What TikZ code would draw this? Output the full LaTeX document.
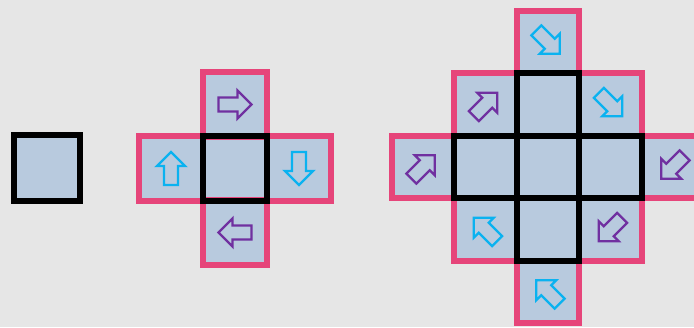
\documentclass[tikz,border=0pt]{standalone}
\definecolor{bgc}{HTML}{E6E6E6}
\definecolor{cellc}{HTML}{B8CADE}
\definecolor{pinkc}{HTML}{E6457A}
\definecolor{purc}{HTML}{7030A0}
\definecolor{cyc}{HTML}{0AB2F0}
\tikzset{
  cellbox/.style={rectangle, inner sep=0pt, minimum size=#1, fill=cellc},
  pinkline/.style={draw=pinkc, line width=6pt},
  blackline/.style={draw=black, line width=6pt},
  barrow/.pic={\draw[line width=2.3pt, line join=miter, pic actions] (-16.5,-7) -- (2.5,-7) -- (2.5,-14) -- (16.5,0) -- (2.5,14) -- (2.5,7) -- (-16.5,7) -- cycle;},
  parr/.style={draw=purc},
  carr/.style={draw=cyc},
}
\begin{document}
\begin{tikzpicture}[x=1pt,y=-1pt]
\useasboundingbox (0,0) rectangle (694,327);
\clip (0,0) rectangle (694,327);
\fill[bgc] (0,0) rectangle (694,327);
% single square
\node[cellbox=65pt] (s) at (47,168) {};
\draw[blackline] (s.north west) rectangle (s.south east);
% middle cross
\begin{scope}
\node[cellbox=64pt] (mc) at (235,168.5) {};
\node[cellbox=64pt] (mt) at (235,104.5) {};
\node[cellbox=64pt] (mb) at (235,232.5) {};
\node[cellbox=64pt] (ml) at (171,168.5) {};
\node[cellbox=64pt] (mr) at (299,168.5) {};
\foreach \n in {mt,mb,ml,mr} \draw[pinkline] (\n.north west) rectangle (\n.south east);
\draw[blackline] (mc.north west) rectangle (mc.south east);
\pic[parr] at (mt) {barrow};
\pic[parr, rotate=180] at (mb) {barrow};
\pic[carr, rotate=90] at (ml) {barrow};
\pic[carr, rotate=-90] at (mr) {barrow};
\end{scope}
% right diagram
\node[cellbox=62.5pt] (c) at (548,167) {};
\node[cellbox=62.5pt] (cl) at (485.5,167) {};
\node[cellbox=62.5pt] (cr) at (610.5,167) {};
\node[cellbox=62.5pt] (ct) at (548,104.5) {};
\node[cellbox=62.5pt] (cb) at (548,229.5) {};
\node[cellbox=62.5pt] (ptt) at (548,42) {};
\node[cellbox=62.5pt] (ptl) at (485.5,104.5) {};
\node[cellbox=62.5pt] (ptr) at (610.5,104.5) {};
\node[cellbox=62.5pt] (pl) at (423,167) {};
\node[cellbox=62.5pt] (pr) at (673,167) {};
\node[cellbox=62.5pt] (pbl) at (485.5,229.5) {};
\node[cellbox=62.5pt] (pbr) at (610.5,229.5) {};
\node[cellbox=62.5pt] (pbb) at (548,292) {};
\foreach \n in {ptt,ptl,ptr,pl,pr,pbl,pbr,pbb} \draw[pinkline] (\n.north west) rectangle (\n.south east);
\foreach \n in {c,cl,cr,ct,cb} \draw[blackline] (\n.north west) rectangle (\n.south east);
\pic[carr, rotate=-45] at (ptt) {barrow};
\pic[parr, rotate=45] at (ptl) {barrow};
\pic[carr, rotate=-45] at (ptr) {barrow};
\pic[parr, rotate=45] at (pl) {barrow};
\pic[parr, rotate=-135] at (pr) {barrow};
\pic[carr, rotate=135] at (pbl) {barrow};
\pic[parr, rotate=-135] at (pbr) {barrow};
\pic[carr, rotate=135] at (pbb) {barrow};
\end{tikzpicture}
\end{document}
